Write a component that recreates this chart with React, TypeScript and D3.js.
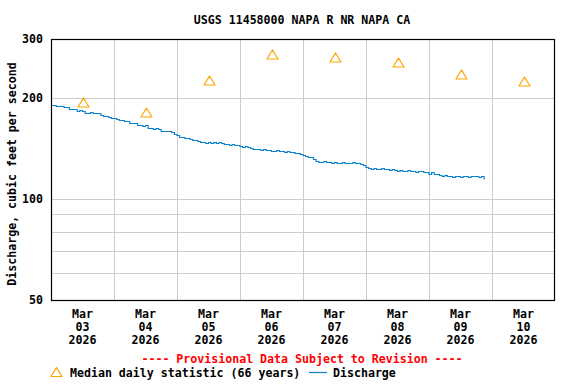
import React from 'react';
import * as d3 from 'd3';

// hourly discharge (cfs), starting Mar 03 2026 00:00
const flowStart = new Date(2026, 2, 3, 0, 0);
const flowValues = [
  191, 191, 190, 189, 189, 188, 188, 186, 185, 185, 183, 184,
  183, 181, 181, 182, 181, 180, 181, 178, 177, 177, 176, 174,
  174, 173, 172, 172, 171, 171, 169, 168, 168, 166, 166, 165,
  166, 163, 163, 162, 163, 162, 160, 159, 160, 159, 158, 156,
  155, 153, 153, 152, 152, 151, 150, 150, 149, 148, 148, 147,
  148, 147, 148, 147, 148, 147, 146, 146, 145, 146, 145, 145,
  144, 143, 144, 143, 142, 141, 141, 141, 140, 141, 140, 140,
  139, 139, 140, 139, 139, 138, 139, 138, 138, 137, 137, 136,
  135, 134, 133, 133, 132, 130, 129, 129, 130, 129, 129, 128,
  129, 128, 128, 129, 128, 128, 128, 129, 128, 128, 127, 126,
  125, 124, 123, 124, 123, 123, 124, 123, 123, 122, 123, 122,
  121, 122, 121, 121, 122, 121, 121, 120, 121, 121, 120, 120,
  119, 120, 119, 119, 118, 117, 118, 117, 117, 116, 117, 117,
  116, 117, 117, 116, 117, 117, 117, 116, 117, 115,
];

// median daily statistic (66 years), one per day
const medianDays = ['03', '04', '05', '06', '07', '08', '09', '10'];
const medianValues = [195, 182, 226, 271, 265, 256, 236, 225];

const yTicks = [300, 200, 100, 50];
const yGrid = [200, 100, 90, 80, 70, 60];

const W = 576;
const H = 384;
const margin = { left: 51, right: 555, top: 39, bottom: 300 };
const font = '"DejaVu Sans Mono", monospace';

const App = () => {
  const x = d3.scaleTime()
    .domain([new Date(2026, 2, 3), new Date(2026, 2, 11)])
    .range([margin.left, margin.right]);
  const y = d3.scaleLog()
    .domain([50, 300])
    .range([margin.bottom, margin.top]);

  const flow = flowValues.map((v, i) => ({ t: d3.timeHour.offset(flowStart, i), v }));
  const line = d3.line<{ t: Date; v: number }>()
    .x(d => x(d.t))
    .y(d => Math.round(y(d.v)) + 0.5)
    .curve(d3.curveStepAfter);

  const medians = medianDays.map((d, i) => ({ t: new Date(2026, 2, +d, 12), v: medianValues[i] }));
  const days = d3.timeDay.range(new Date(2026, 2, 4), new Date(2026, 2, 11));
  const tri = (cx: number, cy: number) =>
    `M${cx - 5.5},${cy + 4.5}L${cx},${cy - 4.5}L${cx + 5.5},${cy + 4.5}Z`;

  const px = (v: number) => Math.round(v) + 0.5;

  return (
    <svg width={W} height={H} style={{ position: 'absolute', left: 0, top: 0, background: '#fff' }}
      fontFamily={font} fontWeight="bold" fontSize={11.6}>
      <rect width={W} height={H} fill="#fff" />
      <text x={302} y={24} textAnchor="middle" fill="#000">USGS 11458000 NAPA R NR NAPA CA</text>

      {/* grid */}
      {yGrid.map(v => (
        <line key={'gy' + v} x1={margin.left} x2={margin.right} y1={px(y(v))} y2={px(y(v))}
          stroke="#cccccc" strokeWidth={1} />
      ))}
      {days.map(d => (
        <line key={'gx' + d.getDate()} x1={px(x(d))} x2={px(x(d))} y1={margin.top} y2={margin.bottom}
          stroke="#cccccc" strokeWidth={1} />
      ))}

      {/* discharge */}
      <path d={line(flow) ?? ''} fill="none" stroke="#0a80d0" strokeWidth={1.2} />

      {/* medians */}
      {medians.map(m => (
        <path key={'m' + m.t.getDate()} d={tri(Math.round(x(m.t)) + 0.5, Math.round(y(m.v)) + 0.5)}
          fill="none" stroke="#ffa500" strokeWidth={1.2} strokeLinejoin="round" />
      ))}

      {/* frame */}
      <rect x={margin.left + 0.5} y={margin.top + 0.5} width={margin.right - margin.left - 1}
        height={margin.bottom - margin.top} fill="none" stroke="#000" strokeWidth={1.2} />

      {/* y ticks */}
      {yTicks.map(v => (
        <text key={'yt' + v} x={43} y={y(v) + 4} textAnchor="end" fill="#000">{v}</text>
      ))}
      <text transform="translate(16,174) rotate(-90)" textAnchor="middle" fill="#000">
        Discharge, cubic feet per second
      </text>

      {/* x ticks */}
      {medians.map(m => {
        const cx = x(m.t);
        return (
          <g key={'xt' + m.t.getDate()} fill="#000" textAnchor="middle">
            <text x={cx} y={318}>Mar</text>
            <text x={cx} y={331}>{d3.timeFormat('%d')(m.t)}</text>
            <text x={cx} y={344}>{d3.timeFormat('%Y')(m.t)}</text>
          </g>
        );
      })}

      <text x={302} y={363} textAnchor="middle" fill="#ff0000">
        ---- Provisional Data Subject to Revision ----
      </text>

      {/* legend */}
      <path d={tri(56.5, 372)} fill="none" stroke="#ffa500" strokeWidth={1.2} strokeLinejoin="round" />
      <text x={70} y={377} fill="#000">Median daily statistic (66 years)</text>
      <line x1={309} x2={327} y1={372.5} y2={372.5} stroke="#0a80d0" strokeWidth={1.2} />
      <text x={333} y={377} fill="#000">Discharge</text>
    </svg>
  );
};

export default App;
